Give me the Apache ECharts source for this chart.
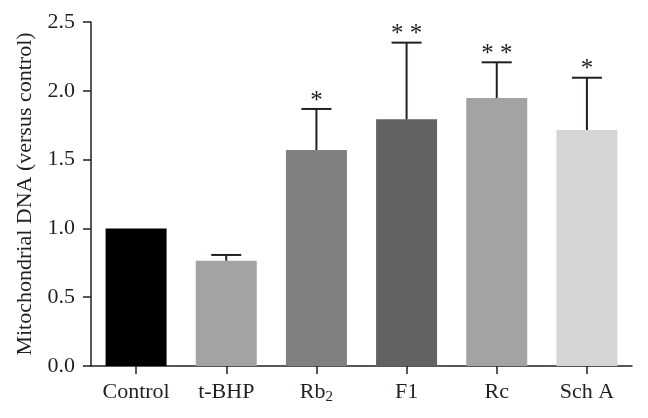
<!DOCTYPE html>
<html>
<head>
<meta charset="utf-8">
<script src="https://cdn.jsdelivr.net/npm/echarts@6/dist/echarts.min.js"></script>
<style>html,body{margin:0;padding:0;background:#fff}#c{width:648px;height:418px}</style>
</head>
<body>
<div id="c"></div>
<script>
const categories = ['Control', 't-BHP', 'Rb2', 'F1', 'Rc', 'Sch A'];
const means = [1.00, 0.765, 1.57, 1.793, 1.948, 1.715];
const errors = [0, 0.042, 0.298, 0.557, 0.259, 0.38];
const stars = ['', '', '*', '**', '**', '*'];
const barColors = ['#000000', '#a3a3a6', '#808080', '#626262', '#a3a3a6', '#d5d5d5'];
const yTicks = [0, 0.5, 1.0, 1.5, 2.0, 2.5];

const FONT = 'Liberation Serif';
const TXT = '#231f20';
const chart = echarts.init(document.getElementById('c'), null, {renderer: 'canvas'});

const errData = categories.map((c, i) => [i, means[i], means[i] + errors[i]]);

chart.setOption({
  animation: false,
  backgroundColor: '#ffffff',
  grid: {left: 91, top: 22, width: 541, height: 344, containLabel: false},
  xAxis: {
    type: 'category',
    data: categories,
    axisLine: {show: true, lineStyle: {color: '#231f20', width: 1.5}},
    axisTick: {show: true, alignWithLabel: true, length: 8, lineStyle: {color: '#231f20', width: 1.5}},
    axisLabel: {
      interval: 0,
      margin: 13,
      color: TXT,
      fontFamily: FONT,
      fontSize: 22,
      formatter: function (v) {
        if (v === 'Rb2') return '{n|Rb}{s|2}';
        return '{n|' + v + '}';
      },
      rich: {
        n: {fontFamily: FONT, fontSize: 22, color: TXT, lineHeight: 26},
        s: {fontFamily: FONT, fontSize: 15, color: TXT, lineHeight: 15, verticalAlign: 'bottom', padding: [10, 0, 0, 0]}
      }
    }
  },
  yAxis: {
    type: 'value',
    min: 0, max: 2.5, interval: 0.5,
    name: 'Mitochondrial DNA (versus control)',
    nameLocation: 'middle',
    nameGap: 52,
    nameTextStyle: {fontFamily: FONT, fontSize: 22, color: TXT},
    axisLine: {show: true, lineStyle: {color: '#231f20', width: 1.5}},
    axisTick: {show: true, length: 8, lineStyle: {color: '#231f20', width: 1.5}},
    splitLine: {show: false},
    axisLabel: {
      margin: 16, color: TXT, fontFamily: FONT, fontSize: 22,
      formatter: function (v) { return v.toFixed(1); }
    }
  },
  series: [
    {
      type: 'bar',
      data: means.map((v, i) => ({value: v, itemStyle: {color: barColors[i]}})),
      barWidth: 61
    },
    {
      type: 'custom',
      data: errData,
      z: 5,
      encode: {x: 0, y: [1, 2]},
      renderItem: function (params, api) {
        const i = api.value(0);
        const m = api.value(1);
        const t = api.value(2);
        const s = stars[params.dataIndex];
        const p0 = api.coord([i, m]);
        const p1 = api.coord([i, t]);
        const children = [];
        if (t > m) {
          const st = {stroke: '#231f20', lineWidth: 2};
          children.push({type: 'line', shape: {x1: p0[0], y1: p0[1], x2: p1[0], y2: p1[1]}, style: st});
          children.push({type: 'line', shape: {x1: p1[0] - 15, y1: p1[1], x2: p1[0] + 15, y2: p1[1]}, style: st});
        }
        if (s) {
          children.push({
            type: 'text',
            style: {
              text: s.split('').join(' '),
              x: p1[0], y: p1[1] - 8,
              align: 'center', verticalAlign: 'middle',
              fontFamily: FONT, fontSize: 25, fill: TXT
            }
          });
        }
        return {type: 'group', children: children};
      }
    }
  ]
});
</script>
</body>
</html>
